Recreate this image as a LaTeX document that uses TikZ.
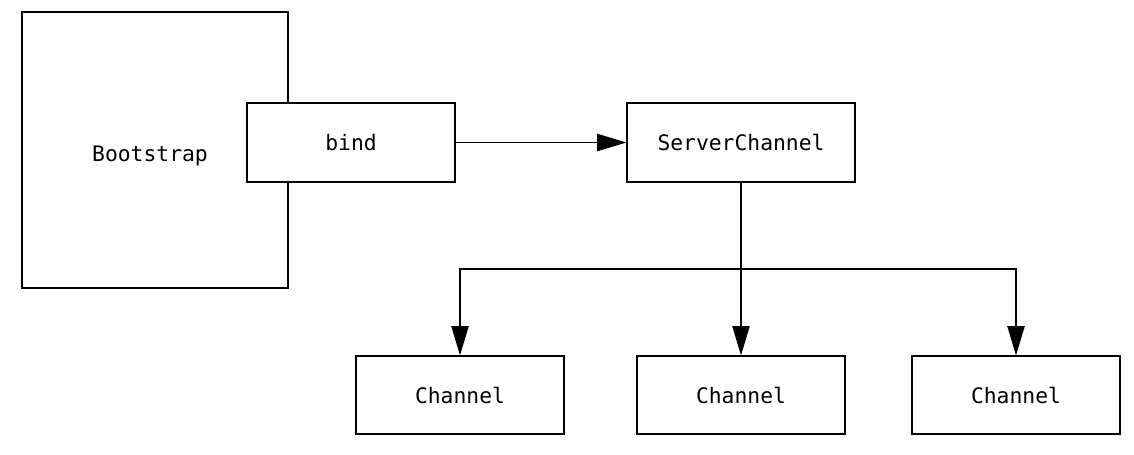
\documentclass[tikz,border=0pt]{standalone}
\usepackage{fontspec}
\setmonofont{DejaVu Sans Mono}
\usetikzlibrary{arrows.meta}
\begin{document}
\begin{tikzpicture}[x=0.75pt,y=-0.75pt,
  box/.style={draw=black, line width=1pt, fill=white, inner sep=0pt,
    font=\ttfamily\fontsize{16}{19}\selectfont, text=black},
  chan/.style={box, minimum width=156pt, minimum height=58.5pt},
  arr/.style={draw=black, line width=1pt, -{Triangle[length=22pt,width=13pt]}}]
\useasboundingbox (0,0) rectangle (1134,454);
\node[box, minimum width=199.5pt, minimum height=207pt] (boot) at (155,150) {};
\node[font=\ttfamily\fontsize{16}{19}\selectfont, inner sep=0pt] (boottxt) at (150,156) {Bootstrap};
\node[box, minimum width=156pt, minimum height=59.25pt] (bind) at (351,142.5) {bind};
\node[box, minimum width=171pt, minimum height=59.25pt] (sc) at (741,142.5) {ServerChannel};
\node[chan] (c1) at (460,395) {Channel};
\node[chan] (c2) at (741,395) {Channel};
\node[chan] (c3) at (1016,395) {Channel};
\coordinate (j) at (741,269);
\draw[arr] (bind.east) -- (sc.west);
\draw[arr] (sc.south) -- (c2.north);
\draw[arr] (j) -| (c1.north);
\draw[arr] (j) -| (c3.north);
\end{tikzpicture}
\end{document}
